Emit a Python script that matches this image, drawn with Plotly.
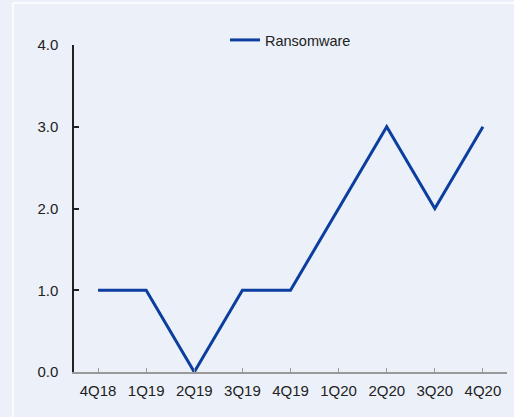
import plotly.graph_objects as go

quarters = ["4Q18", "1Q19", "2Q19", "3Q19", "4Q19", "1Q20", "2Q20", "3Q20", "4Q20"]
ransomware = [1, 1, 0, 1, 1, 2, 3, 2, 3]
y_ticks = [0, 1, 2, 3, 4]
y_tick_labels = ["0.0", "1.0", "2.0", "3.0", "4.0"]

W, H = 514, 417
L, R, T, B = 74, 7, 45, 45
pw, ph = W - L - R, H - T - B

def px_x(x):
    return (x - L) / pw

def px_y(y):
    return (H - B - y) / ph

fig = go.Figure()
fig.add_trace(go.Scatter(
    x=quarters, y=ransomware, mode="lines", name="Ransomware",
    line=dict(color="#0B3E9E", width=3),
))

bg = "#ECF1F9"
fig.update_layout(
    width=W, height=H,
    margin=dict(l=L, r=R, t=T, b=B),
    paper_bgcolor=bg, plot_bgcolor=bg,
    font=dict(family="Liberation Sans, Arial, sans-serif", size=15, color="#222222"),
    showlegend=True,
    legend=dict(orientation="h", x=px_x(225), y=px_y(40), xanchor="left", yanchor="middle",
                bgcolor="rgba(0,0,0,0)", font=dict(size=14.5), itemwidth=30),
    xaxis=dict(
        type="category", range=[-0.5, 8.5], showgrid=False, zeroline=False,
        showline=True, linecolor="#9A9A9A", linewidth=1.5,
        ticks="inside", ticklen=4, tickcolor="#9A9A9A", tickwidth=1,
        ticklabelstandoff=4, tickfont=dict(size=15), fixedrange=True,
    ),
    yaxis=dict(
        range=[0, 4], tickvals=y_ticks, ticktext=y_tick_labels,
        showgrid=False, zeroline=False,
        showline=True, linecolor="#222222", linewidth=1.5,
        ticks="inside", ticklen=5, tickcolor="#222222", tickwidth=1.5,
        ticklabelstandoff=11, tickfont=dict(size=15),
    ),
)

# thin lighter frame lines of the original image border
fig.add_shape(type="line", xref="paper", yref="paper",
              x0=px_x(13), x1=px_x(13), y0=px_y(417), y1=px_y(3),
              line=dict(color="#FFFFFF", width=1.5))
fig.add_shape(type="line", xref="paper", yref="paper",
              x0=px_x(13), x1=px_x(514), y0=px_y(3), y1=px_y(3),
              line=dict(color="#FFFFFF", width=1.5))

fig.write_html("out.html", config={"displayModeBar": False},
               post_script="document.body.style.margin='0';document.body.style.overflow='hidden';")
